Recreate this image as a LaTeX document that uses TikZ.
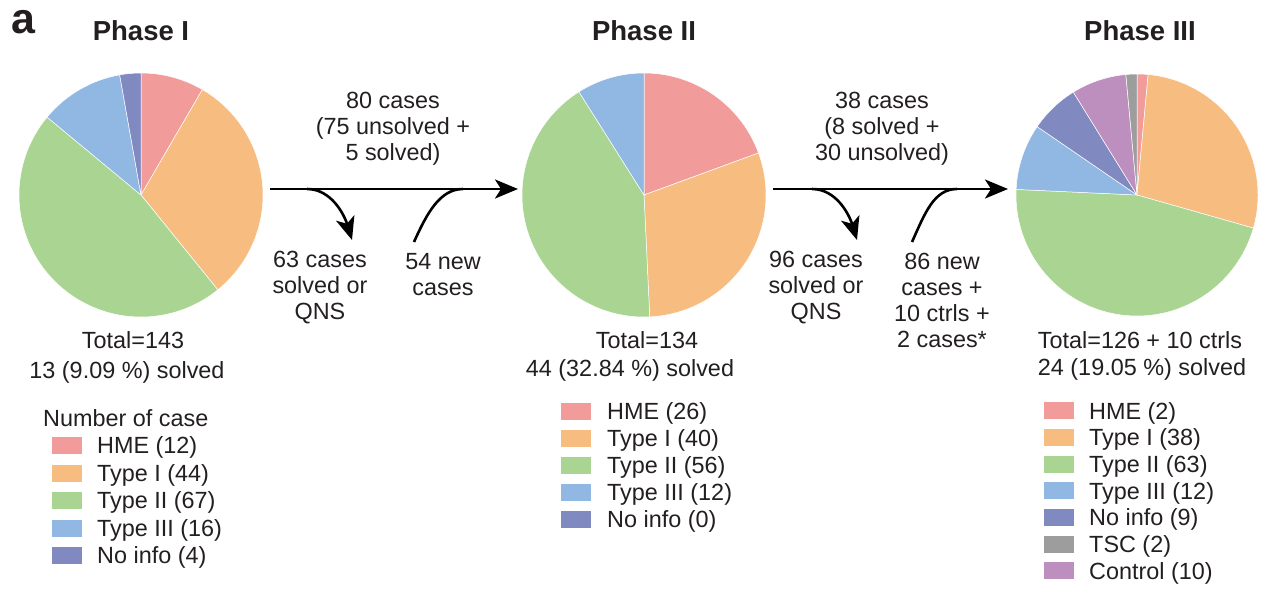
\documentclass[tikz,border=0pt]{standalone}
\usepackage{fontspec}
\setmainfont{Liberation Sans}
\usetikzlibrary{arrows.meta}
\definecolor{cHME}{HTML}{F19B9B}
\definecolor{cT1}{HTML}{F6BC80}
\definecolor{cT2}{HTML}{A9D491}
\definecolor{cT3}{HTML}{90B8E2}
\definecolor{cNo}{HTML}{8189C1}
\definecolor{cTSC}{HTML}{9D9D9D}
\definecolor{cCtl}{HTML}{BD8FBE}
\definecolor{cTxt}{HTML}{231F20}
\newcommand\myslice[6]{\fill[#6,draw=white,line width=0.5pt] (#1,#2) -- plot[domain=#4:#5,samples=90] ({#1+#3*cos(\x)},{#2+#3*sin(\x)}) -- cycle;}
\tikzset{
  txt/.style={text=cTxt,inner sep=0pt,font=\fontsize{23.4}{26}\selectfont},
  mtxt/.style={txt,align=center},
  ttl/.style={text=cTxt,inner sep=0pt,anchor=base,font=\fontsize{27.5}{30}\selectfont\bfseries},
  swatch/.style={inner sep=0pt,minimum width=30pt,minimum height=17pt,draw=none},
  legtxt/.style={txt,anchor=base west},
  flow/.style={line width=2.6pt,draw=black,-{Stealth[length=23pt,width=19pt,inset=6pt]}},
  flowline/.style={line width=2.6pt,draw=black},
}
\begin{document}
\begin{tikzpicture}[x=1pt,y=-1pt]
\useasboundingbox (0,0) rectangle (1262,592);
% panel letter and titles
\node[text=cTxt,inner sep=0pt,anchor=base west,font=\fontsize{43}{43}\selectfont\bfseries] (panel) at (11,33) {a};
\node[ttl] (t1) at (141,40) {Phase I};
\node[ttl] (t2) at (644,40) {Phase II};
\node[ttl] (t3) at (1140,40) {Phase III};
% pie I (143)
\myslice{141}{195}{122}{-90}{-59.79}{cHME}
\myslice{141}{195}{122}{-59.79}{50.98}{cT1}
\myslice{141}{195}{122}{50.98}{219.65}{cT2}
\myslice{141}{195}{122}{219.65}{259.93}{cT3}
\myslice{141}{195}{122}{259.93}{270}{cNo}
% pie II (134)
\myslice{644}{195}{122}{-90}{-20.15}{cHME}
\myslice{644}{195}{122}{-20.15}{87.31}{cT1}
\myslice{644}{195}{122}{87.31}{237.76}{cT2}
\myslice{644}{195}{122}{237.76}{270}{cT3}
% pie III (136)
\myslice{1137}{195}{121}{-90}{-84.71}{cHME}
\myslice{1137}{195}{121}{-84.71}{15.88}{cT1}
\myslice{1137}{195}{121}{15.88}{182.65}{cT2}
\myslice{1137}{195}{121}{182.65}{214.41}{cT3}
\myslice{1137}{195}{121}{214.41}{238.24}{cNo}
\myslice{1137}{195}{121}{238.24}{264.71}{cCtl}
\myslice{1137}{195}{121}{264.71}{270}{cTSC}
% flow 1
\coordinate (f1s) at (270,189);
\coordinate (f1e) at (518,189);
\coordinate (f1a) at (307,189);
\coordinate (f1b) at (352,240);
\coordinate (f1c) at (414,242);
\coordinate (f1d) at (463,189);
\draw[flow] (f1s) -- (f1e);
\draw[flow] (f1a) .. controls (331,189) and (344,214) .. (f1b);
\draw[flowline] (f1c) .. controls (427,213) and (440,189) .. (f1d);
\node[mtxt] (l1top) at (393,129) {80 cases\\(75 unsolved +\\5 solved)};
\node[mtxt] (l1out) at (320,288) {63 cases\\solved or\\QNS};
\node[mtxt] (l1in) at (443,275) {54 new\\cases};
% flow 2
\coordinate (f2s) at (773,189);
\coordinate (f2e) at (1008,189);
\coordinate (f2a) at (812,189);
\coordinate (f2b) at (857,240);
\coordinate (f2c) at (912,242);
\coordinate (f2d) at (957,189);
\draw[flow] (f2s) -- (f2e);
\draw[flow] (f2a) .. controls (836,189) and (849,214) .. (f2b);
\draw[flowline] (f2c) .. controls (925,213) and (934,189) .. (f2d);
\node[mtxt] (l2top) at (882,129) {38 cases\\(8 solved +\\30 unsolved)};
\node[mtxt] (l2out) at (816,288) {96 cases\\solved or\\QNS};
\node[mtxt] (l2in) at (942,300) {86 new\\cases +\\10 ctrls +\\2 cases*};
% totals
\node[txt,anchor=base] (tot1) at (133,348) {Total=143};
\node[txt,anchor=base] (sol1) at (127,378) {13 (9.09 \%) solved};
\node[txt,anchor=base] (tot2) at (647,348) {Total=134};
\node[txt,anchor=base] (sol2) at (630,376) {44 (32.84 \%) solved};
\node[txt,anchor=base] (tot3) at (1140,348) {Total=126 + 10 ctrls};
\node[txt,anchor=base] (sol3) at (1142,375) {24 (19.05 \%) solved};
% legend I
\node[legtxt] (lgh) at (43,426) {Number of case};
\foreach \i/\c/\t in {1/cHME/{HME (12)},2/cT1/{Type I (44)},3/cT2/{Type II (67)},4/cT3/{Type III (16)},5/cNo/{No info (4)}}{
  \node[swatch,fill=\c] (sa\i) at (67,{445.7+27.5*(\i-1)}) {};
  \node[legtxt] (la\i) at (97,{453.9+27.5*(\i-1)}) {\t};
}
% legend II
\foreach \i/\c/\t in {1/cHME/{HME (26)},2/cT1/{Type I (40)},3/cT2/{Type II (56)},4/cT3/{Type III (12)},5/cNo/{No info (0)}}{
  \node[swatch,fill=\c] (sb\i) at (576,{411+27*(\i-1)}) {};
  \node[legtxt] (lb\i) at (607,{419.2+27*(\i-1)}) {\t};
}
% legend III
\foreach \i/\c/\t in {1/cHME/{HME (2)},2/cT1/{Type I (38)},3/cT2/{Type II (63)},4/cT3/{Type III (12)},5/cNo/{No info (9)},6/cTSC/{TSC (2)},7/cCtl/{Control (10)}}{
  \node[swatch,fill=\c] (sc\i) at (1059,{410.8+26.67*(\i-1)}) {};
  \node[legtxt] (lc\i) at (1089,{419+26.67*(\i-1)}) {\t};
}
\end{tikzpicture}
\end{document}
